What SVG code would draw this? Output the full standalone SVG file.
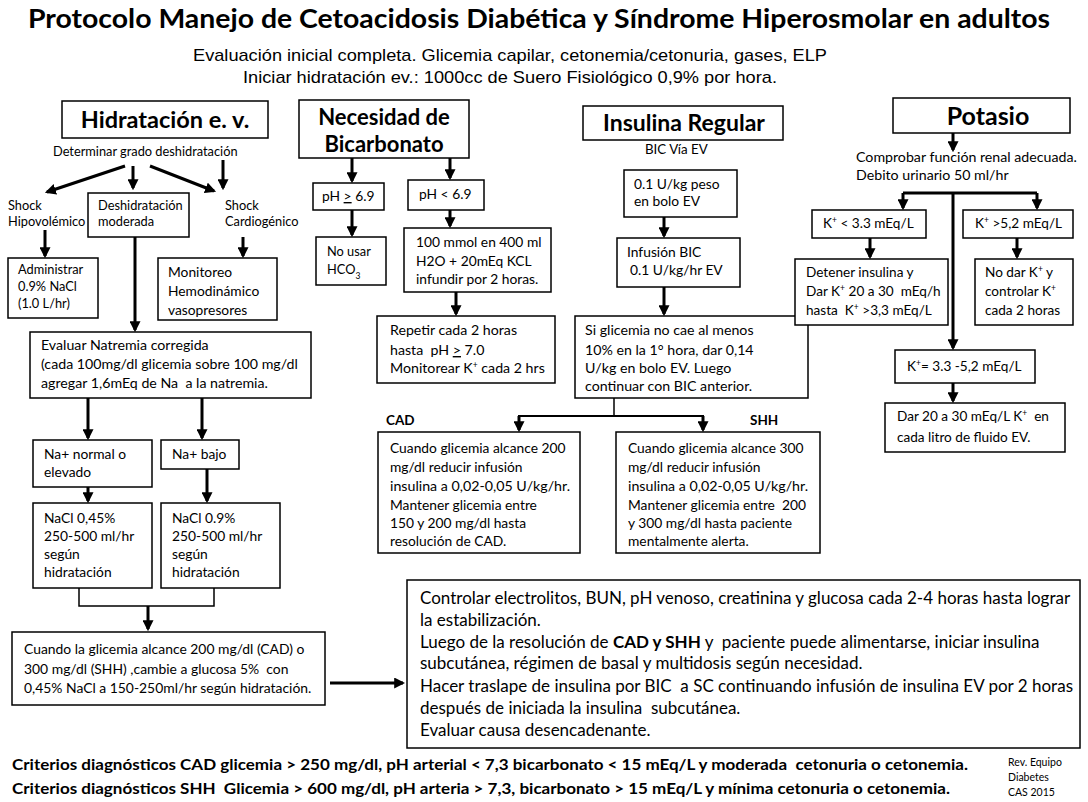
<svg xmlns="http://www.w3.org/2000/svg" width="1088" height="802" viewBox="0 0 1088 802">
<defs>
<marker id="ah" markerUnits="userSpaceOnUse" markerWidth="11" markerHeight="11" viewBox="0 0 10 10" refX="8" refY="5" orient="auto">
<path d="M0,0 L10,5 L0,10 z" fill="#000"/>
</marker>
<style>
.b{fill:#fff;stroke:#000;stroke-width:1.5}
text{font-family:Lato,"Open Sans","Noto Sans",sans-serif;font-size:13.6px;fill:#000}
.h{font-weight:bold;font-size:22px;text-anchor:middle}
.s{font-size:12.8px}
.m{font-size:13.8px}
.L{font-size:17px}
.bd{font-weight:bold}
.sup{font-size:8.5px;baseline-shift:super}
.u{text-decoration:underline}
#conn line,#conn polyline{stroke:#000;stroke-width:3;fill:none}
#conn .a{marker-end:url(#ah)}
#conn .thin{stroke-width:1.5}
</style>
</defs>
<rect width="1088" height="802" fill="#fff"/>

<g id="title">
<text x="28" y="28" style="font-size:26px;font-weight:bold" textLength="1022" lengthAdjust="spacingAndGlyphs">Protocolo Manejo de Cetoacidosis Diabética y Síndrome Hiperosmolar en adultos</text>
<text x="193" y="61" style="font-family:'Liberation Sans',Arial,sans-serif;font-size:17px" textLength="634" lengthAdjust="spacingAndGlyphs">Evaluación inicial completa. Glicemia capilar, cetonemia/cetonuria, gases, ELP</text>
<text x="243" y="83" style="font-family:'Liberation Sans',Arial,sans-serif;font-size:17px" textLength="534" lengthAdjust="spacingAndGlyphs">Iniciar hidratación ev.: 1000cc de Suero Fisiológico 0,9% por hora.</text>
</g>

<!-- Hidratación column -->
<g id="hid"><rect class="b" x="62" y="101" width="206" height="37"/><text class="h" x="165" y="128" style="font-size:23.5px">Hidratación e. v.</text></g>
<g id="determinar"><text class="s" x="53" y="156">Determinar grado deshidratación</text></g>
<g id="shockhipo"><text class="s" x="8" y="210">Shock</text><text class="s" x="8" y="226">Hipovolémico</text></g>
<g id="deshid"><rect class="b" x="88" y="193" width="101" height="44"/><text class="s" x="98" y="210">Deshidratación</text><text class="s" x="98" y="226">moderada</text></g>
<g id="shockcard"><text class="s" x="225" y="210">Shock</text><text class="s" x="225" y="226">Cardiogénico</text></g>
<g id="admin"><rect class="b" x="8" y="258" width="90" height="60"/><text class="s" x="18" y="274">Administrar</text><text class="s" x="18" y="291">0.9% NaCl</text><text class="s" x="18" y="308">(1.0 L/hr)</text></g>
<g id="monit"><rect class="b" x="158" y="258" width="119" height="62"/><text class="m" x="168" y="277">Monitoreo</text><text class="m" x="168" y="296">Hemodinámico</text><text class="m" x="168" y="315">vasopresores</text></g>
<g id="evaluar"><rect class="b" x="30" y="332" width="281" height="66"/><text class="m" x="41" y="350" style="font-size:14.2px">Evaluar Natremia corregida</text><text class="m" x="41" y="369" style="font-size:14.2px">(cada 100mg/dl glicemia sobre 100 mg/dl</text><text class="m" x="41" y="388" style="font-size:14.2px" xml:space="preserve">agregar 1,6mEq de Na  a la natremia.</text></g>
<g id="nanormal"><rect class="b" x="33" y="440" width="119" height="47"/><text class="m" x="44" y="459">Na+ normal o</text><text class="m" x="44" y="477">elevado</text></g>
<g id="nabajo"><rect class="b" x="161" y="440" width="78" height="29"/><text class="m" x="172" y="459">Na+ bajo</text></g>
<g id="nacl045"><rect class="b" x="33" y="503" width="119" height="85"/><text class="m" x="44" y="523">NaCl 0,45%</text><text class="m" x="44" y="541">250-500 ml/hr</text><text class="m" x="44" y="559">según</text><text class="m" x="44" y="577">hidratación</text></g>
<g id="nacl09"><rect class="b" x="161" y="503" width="119" height="85"/><text class="m" x="172" y="523">NaCl 0.9%</text><text class="m" x="172" y="541">250-500 ml/hr</text><text class="m" x="172" y="559">según</text><text class="m" x="172" y="577">hidratación</text></g>
<g id="glucosa"><rect class="b" x="12" y="632" width="313" height="73"/><text x="24" y="654" style="font-size:13.9px">Cuando la glicemia alcance 200 mg/dl (CAD) o</text><text x="24" y="674" style="font-size:13.9px" xml:space="preserve">300 mg/dl (SHH) ,cambie a glucosa 5%  con</text><text x="24" y="693" style="font-size:13.9px">0,45% NaCl a 150-250ml/hr según hidratación.</text></g>

<!-- Bicarbonato column -->
<g id="bic"><rect class="b" x="299" y="100" width="170" height="58"/><text class="h" x="384" y="125">Necesidad de</text><text class="h" x="384" y="152">Bicarbonato</text></g>
<g id="phge"><rect class="b" x="313" y="183" width="71" height="27"/><text class="m" x="322" y="201">pH <tspan class="u">&gt;</tspan> 6.9</text></g>
<g id="phlt"><rect class="b" x="408" y="180" width="76" height="30"/><text class="m" x="419" y="199">pH &lt; 6.9</text></g>
<g id="nousar"><rect class="b" x="316" y="237" width="70" height="48"/><text class="s" x="327" y="256">No usar</text><text class="s" x="327" y="274">HCO<tspan style="font-size:8.5px;baseline-shift:sub">3</tspan></text></g>
<g id="mmol"><rect class="b" x="404" y="228" width="147" height="64"/><text class="m" x="416" y="247">100 mmol en 400 ml</text><text class="m" x="416" y="266">H2O + 20mEq KCL</text><text class="m" x="416" y="284">infundir por 2 horas.</text></g>
<g id="repetir"><rect class="b" x="377" y="316" width="178" height="67"/><text x="390" y="335" style="font-size:14.2px">Repetir cada 2 horas</text><text x="390" y="355" style="font-size:14.2px" xml:space="preserve">hasta  pH <tspan class="u">&gt;</tspan> 7.0</text><text x="390" y="373" style="font-size:14.2px">Monitorear K<tspan class="sup">+</tspan> cada 2 hrs</text></g>

<!-- Insulina column -->
<g id="ins"><rect class="b" x="583" y="106" width="200" height="34"/><text class="h" x="684" y="131" style="font-size:23px">Insulina Regular</text></g>
<g id="bicvia"><text x="645" y="154" style="font-size:13.3px">BIC Vía EV</text></g>
<g id="bolo"><rect class="b" x="624" y="170" width="113" height="47"/><text class="m" x="634" y="189">0.1 U/kg peso</text><text class="m" x="634" y="206">en bolo EV</text></g>
<g id="infusion"><rect class="b" x="617" y="238" width="123" height="49"/><text class="m" x="627" y="257">Infusión BIC</text><text class="m" x="630" y="275">0.1 U/kg/hr EV</text></g>
<g id="siglic"><rect class="b" x="575" y="316" width="233" height="82"/><text x="585" y="335" style="font-size:14.2px">Si glicemia no cae al menos</text><text x="585" y="355" style="font-size:14.2px">10% en la 1° hora, dar 0,14</text><text x="585" y="373" style="font-size:14.2px">U/kg en bolo EV. Luego</text><text x="585" y="391" style="font-size:14.2px">continuar con BIC anterior.</text></g>
<g id="cadlbl"><text class="bd" x="386" y="425" style="font-size:13.5px">CAD</text></g>
<g id="shhlbl"><text class="bd" x="750" y="425" style="font-size:13.5px">SHH</text></g>
<g id="cad"><rect class="b" x="378" y="432" width="202" height="121"/><text class="m" x="390" y="453">Cuando glicemia alcance 200</text><text class="m" x="390" y="472">mg/dl reducir infusión</text><text class="m" x="390" y="491" textLength="180" lengthAdjust="spacingAndGlyphs">insulina a 0,02-0,05 U/kg/hr.</text><text class="m" x="390" y="510">Mantener glicemia entre</text><text class="m" x="390" y="528">150 y 200 mg/dl hasta</text><text class="m" x="390" y="546">resolución de CAD.</text></g>
<g id="shh"><rect class="b" x="616" y="432" width="204" height="121"/><text class="m" x="628" y="453">Cuando glicemia alcance 300</text><text class="m" x="628" y="472">mg/dl reducir infusión</text><text class="m" x="628" y="491" textLength="180" lengthAdjust="spacingAndGlyphs">insulina a 0,02-0,05 U/kg/hr.</text><text class="m" x="628" y="510" xml:space="preserve">Mantener glicemia entre  200</text><text class="m" x="628" y="528">y 300 mg/dl hasta paciente</text><text class="m" x="628" y="546">mentalmente alerta.</text></g>

<!-- Potasio column -->
<g id="pot"><rect class="b" x="893" y="98" width="177" height="35"/><text class="h" x="988" y="125" style="font-size:25px">Potasio</text></g>
<g id="comprobar"><text x="856" y="162" style="font-size:14.2px">Comprobar función renal adecuada.</text><text x="856" y="180" style="font-size:14.2px">Debito urinario 50 ml/hr</text></g>
<g id="klow"><rect class="b" x="812" y="210" width="114" height="28"/><text x="823" y="228">K<tspan class="sup">+</tspan> &lt; 3.3 mEq/L</text></g>
<g id="khigh"><rect class="b" x="963" y="210" width="110" height="28"/><text x="975" y="228">K<tspan class="sup">+</tspan> &gt;5,2 mEq/L</text></g>
<g id="detener"><rect class="b" x="795" y="259" width="153" height="66"/><text x="806" y="277">Detener insulina y</text><text x="806" y="296" xml:space="preserve">Dar K<tspan class="sup">+</tspan> 20 a 30  mEq/h</text><text x="806" y="315" xml:space="preserve">hasta  K<tspan class="sup">+</tspan> &gt;3,3 mEq/L</text></g>
<g id="nodar"><rect class="b" x="975" y="259" width="98" height="66"/><text x="985" y="277">No dar K<tspan class="sup">+</tspan> y</text><text x="985" y="296">controlar K<tspan class="sup">+</tspan></text><text x="985" y="315">cada 2 horas</text></g>
<g id="knorm"><rect class="b" x="895" y="350" width="140" height="33"/><text x="907" y="371">K<tspan class="sup">+</tspan>= 3.3 -5,2 mEq/L</text></g>
<g id="dar20"><rect class="b" x="885" y="403" width="180" height="49"/><text x="897" y="421" xml:space="preserve">Dar 20 a 30 mEq/L K<tspan class="sup">+</tspan>  en</text><text x="897" y="442">cada litro de fluido EV.</text></g>

<!-- Bottom big box -->
<g id="controlar"><rect class="b" x="407" y="580" width="673" height="168"/>
<text class="L" x="420" y="604">Controlar electrolitos, BUN, pH venoso, creatinina y glucosa cada 2-4 horas hasta lograr</text>
<text class="L" x="420" y="626">la estabilización.</text>
<text class="L" x="420" y="648" xml:space="preserve">Luego de la resolución de <tspan class="bd">CAD y SHH</tspan> y  paciente puede alimentarse, iniciar insulina</text>
<text class="L" x="420" y="669">subcutánea, régimen de basal y multidosis según necesidad.</text>
<text class="L" x="420" y="692" xml:space="preserve">Hacer traslape de insulina por BIC  a SC continuando infusión de insulina EV por 2 horas</text>
<text class="L" x="420" y="714" xml:space="preserve">después de iniciada la insulina  subcutánea.</text>
<text class="L" x="420" y="736">Evaluar causa desencadenante.</text>
</g>

<g id="criterios">
<text class="bd" x="12" y="770" style="font-size:15px" textLength="956" lengthAdjust="spacingAndGlyphs" xml:space="preserve">Criterios diagnósticos CAD glicemia &gt; 250 mg/dl, pH arterial &lt; 7,3 bicarbonato &lt; 15 mEq/L y moderada  cetonuria o cetonemia.</text>
<text class="bd" x="12" y="794" style="font-size:15px" textLength="938" lengthAdjust="spacingAndGlyphs" xml:space="preserve">Criterios diagnósticos SHH  Glicemia &gt; 600 mg/dl, pH arteria &gt; 7,3, bicarbonato &gt; 15 mEq/L y mínima cetonuria o cetonemia.</text>
</g>
<g id="rev"><text x="1008" y="766" style="font-size:10.5px">Rev. Equipo</text><text x="1008" y="781" style="font-size:10.5px">Diabetes</text><text x="1008" y="796" style="font-size:10.5px">CAS 2015</text></g>

<g id="conn">
<line class="a" x1="125" y1="166" x2="47" y2="192"/>
<line class="a" x1="133" y1="166" x2="133" y2="188"/>
<line class="a" x1="150" y1="166" x2="214" y2="191"/>
<line class="a" x1="223" y1="160" x2="223" y2="188"/>
<line class="a" x1="45" y1="230" x2="45" y2="256"/>
<line class="a" x1="243" y1="237" x2="243" y2="256"/>
<line class="a" x1="135" y1="237" x2="135" y2="330"/>
<line class="a" x1="88" y1="398" x2="88" y2="438"/>
<line class="a" x1="202" y1="398" x2="202" y2="438"/>
<line class="a" x1="88" y1="487" x2="88" y2="501"/>
<line class="a" x1="207" y1="469" x2="207" y2="501"/>
<polyline class="thin" points="79,588 79,606 214,606 214,588"/>
<line class="a" x1="148" y1="606" x2="148" y2="629"/>
<line class="a" x1="330" y1="683" x2="403" y2="683"/>
<line class="a" x1="352" y1="158" x2="352" y2="181"/>
<line class="a" x1="450" y1="158" x2="450" y2="178"/>
<line class="a" x1="352" y1="210" x2="352" y2="235"/>
<line class="a" x1="450" y1="210" x2="450" y2="226"/>
<line class="a" x1="456" y1="292" x2="456" y2="314"/>
<line class="a" x1="664" y1="217" x2="664" y2="236"/>
<line class="a" x1="664" y1="287" x2="664" y2="314"/>
<line class="thin" x1="614" y1="398" x2="614" y2="416"/>
<line style="stroke-width:2" x1="518" y1="416" x2="704" y2="416"/>
<line class="a" x1="519" y1="416" x2="519" y2="430"/>
<line class="a" x1="703" y1="416" x2="703" y2="430"/>
<line class="a" x1="953" y1="133" x2="953" y2="150"/>
<line x1="903" y1="193" x2="1037" y2="193"/>
<line class="a" x1="903" y1="193" x2="903" y2="208"/>
<line class="a" x1="1037" y1="193" x2="1037" y2="208"/>
<line class="a" x1="953" y1="193" x2="953" y2="348"/>
<line class="a" x1="870" y1="238" x2="870" y2="257"/>
<line class="a" x1="1017" y1="238" x2="1017" y2="257"/>
<line class="a" x1="953" y1="383" x2="953" y2="401"/>
</g>
</svg>
